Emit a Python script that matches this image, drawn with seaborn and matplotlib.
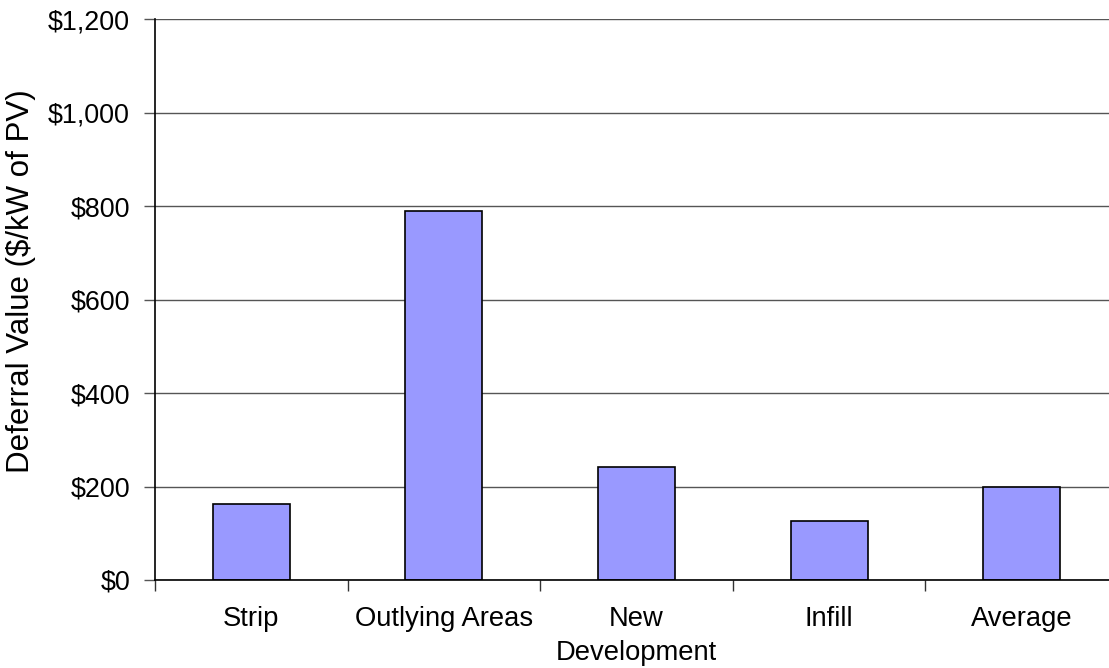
import matplotlib
matplotlib.use("Agg")
import matplotlib.pyplot as plt
import seaborn as sns
import pandas as pd
from matplotlib.ticker import FuncFormatter, FixedLocator

# Deferral value of distribution upgrades per kW of PV, by area type
categories = ["Strip", "Outlying Areas", "New\nDevelopment", "Infill", "Average"]
values = [162, 791, 241, 126, 200]
y_ticks = [0, 200, 400, 600, 800, 1000, 1200]

df = pd.DataFrame({"area": categories, "value": values})

sns.set_theme(style="white")
plt.rcParams["font.family"] = ["Liberation Sans", "DejaVu Sans"]

W, H = 1109, 668
fig = plt.figure(figsize=(W / 100, H / 100), dpi=100)
ax = fig.add_axes([155 / W, (H - 580) / H, 963 / W, 560.5 / H])

sns.barplot(data=df, x="area", y="value", ax=ax, color="#9999FF",
            saturation=1, width=0.4, edgecolor="black", linewidth=1.2)

ax.set_ylim(0, 1200)
ax.set_xlim(-0.5, len(categories) - 0.5)
ax.yaxis.set_major_locator(FixedLocator(y_ticks))
ax.yaxis.set_major_formatter(FuncFormatter(lambda v, p: f"${v:,.0f}"))
ax.grid(axis="y", color="#555555", linewidth=1)
ax.set_axisbelow(True)

# Category boundaries carry the tick marks; names sit centred under each bar
ax.set_xticks([i - 0.5 for i in range(len(categories) + 1)])
ax.set_xticklabels([])
ax.set_xticks(range(len(categories)), minor=True)
ax.set_xticklabels(categories, minor=True, fontsize=19.7, color="black",
                   linespacing=1.4)
ax.tick_params(axis="x", which="major", direction="out", length=8, width=1,
               color="#333333", bottom=True)
ax.tick_params(axis="x", which="minor", length=0, pad=19)
ax.tick_params(axis="y", direction="out", length=8, width=1, color="#555555",
               left=True, labelsize=19.4, labelcolor="black", pad=10)

ax.set_xlabel("")
ax.set_ylabel("Deferral Value ($/kW of PV)", fontsize=22.5, color="black")
ax.yaxis.label.set_va("center")
ax.yaxis.set_label_coords(-0.139, 0.533)

ax.spines["right"].set_visible(False)
ax.spines["top"].set_visible(False)
for side in ["left", "bottom"]:
    ax.spines[side].set_color("black")
    ax.spines[side].set_linewidth(1.2)

fig.savefig("out.png", dpi=100, facecolor="white")
